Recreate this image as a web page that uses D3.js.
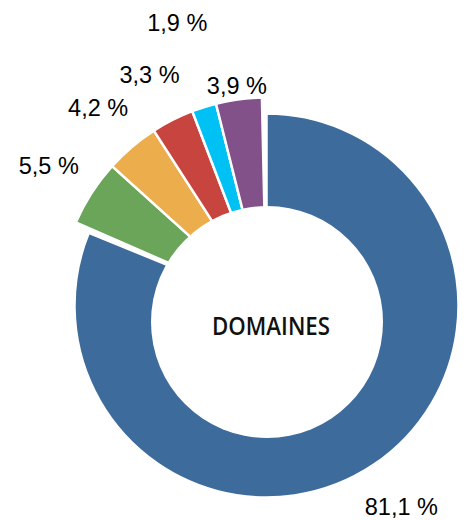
<!DOCTYPE html>
<html>
<head>
<meta charset="utf-8">
<script src="https://cdn.jsdelivr.net/npm/d3@7"></script>
<style>
  body { margin: 0; background: #fff; }
</style>
</head>
<body>
<div id="chart"></div>
<script>
// Data
const categories = ['A', 'B', 'C', 'D', 'E', 'F'];
const values = [81.1, 5.5, 4.2, 3.3, 1.9, 3.9];
const labels = ['81,1 %', '5,5 %', '4,2 %', '3,3 %', '1,9 %', '3,9 %'];
const colors = ['#3d6b9c', '#6aa55a', '#ecae4d', '#c8443f', '#00c1f3', '#82518a'];
const centerLabel = 'DOMAINES';

// Layout
const width = 469, height = 520;
const cx = 266.5, cy = 305.5;
const rMain = 192, rSmall = 208;
const hole = { x: 267, y: 322, r: 116 };
const labelRadius = [242, 259, 260, 259, 297, 222];
const groupGap = 0.022; // extra gap between the big slice and the small ones

const data = categories.map((c, i) => ({ cat: c, value: values[i], label: labels[i], color: colors[i], i }));

const svg = d3.select('#chart')
    .append('svg')
    .attr('width', width)
    .attr('height', height);

const g = svg.append('g')
    .attr('transform', `translate(${cx}, ${cy})`);

const pie = d3.pie()
    .value(d => d.value)
    .sort(null);

const arcs = pie(data);
// pull the small slices away from the big one at both ends
arcs[1].startAngle += groupGap;
arcs[arcs.length - 1].endAngle -= groupGap;

const arc = d3.arc()
    .innerRadius(0)
    .outerRadius(d => d.index === 0 ? rMain : rSmall);

g.selectAll('path')
    .data(arcs)
    .join('path')
    .attr('d', arc)
    .attr('fill', d => d.data.color)
    .attr('stroke', '#fff')
    .attr('stroke-width', 2.5)
    .attr('stroke-linejoin', 'miter');

// donut hole
svg.append('circle')
    .attr('cx', hole.x)
    .attr('cy', hole.y)
    .attr('r', hole.r)
    .attr('fill', '#fff');

// value labels
g.selectAll('text.val')
    .data(arcs)
    .join('text')
    .attr('class', 'val')
    .attr('transform', d => {
        const r = labelRadius[d.index];
        const c = d3.arc().innerRadius(r).outerRadius(r).centroid(d);
        return `translate(${c[0]}, ${c[1]})`;
    })
    .attr('text-anchor', 'middle')
    .attr('dy', '0.36em')
    .style('font-family', '"Liberation Sans", Arial, sans-serif')
    .style('font-size', '23.5px')
    .style('fill', '#000')
    .text(d => d.data.label);

// center label
svg.append('text')
    .attr('x', 271)
    .attr('y', 326)
    .attr('text-anchor', 'middle')
    .attr('dy', '0.36em')
    .attr('textLength', 118)
    .attr('lengthAdjust', 'spacingAndGlyphs')
    .style('font-family', '"Open Sans", sans-serif')
    .style('font-size', '25px')
    .style('font-weight', 600)
    .style('fill', '#111')
    .text(centerLabel);
</script>
</body>
</html>
